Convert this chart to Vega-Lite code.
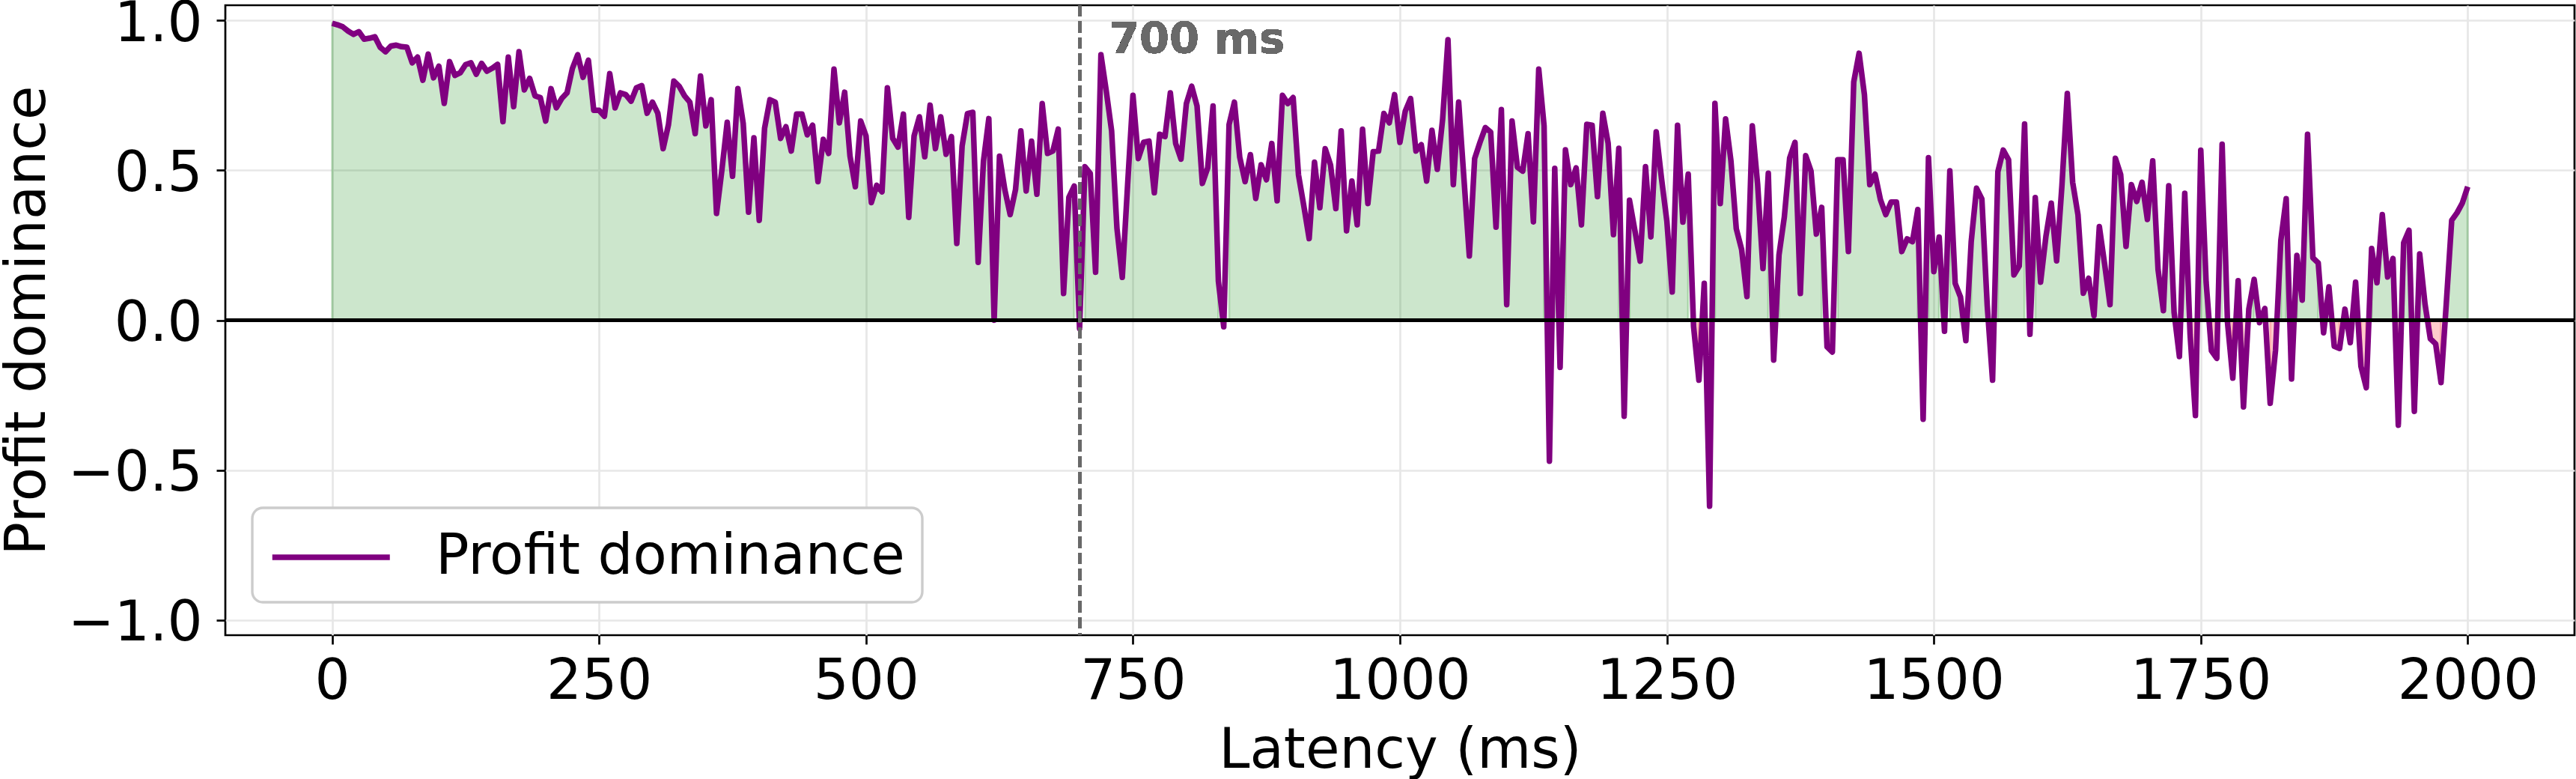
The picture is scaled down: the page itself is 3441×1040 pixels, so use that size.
{
  "$schema": "https://vega.github.io/schema/vega-lite/v6.json",
  "width": 3138,
  "height": 841,
  "autosize": {"type": "none"},
  "padding": {"left": 301, "top": 7, "right": 2, "bottom": 192},
  "background": "white",
  "config": {
    "font": "DejaVu Sans",
    "view": {"stroke": "black", "strokeWidth": 2.7},
    "legend": {"strokeWidth": 3.4},
    "axis": {
      "labelFont": "DejaVu Sans",
      "titleFont": "DejaVu Sans",
      "labelFontSize": 74,
      "titleFontSize": 74,
      "labelColor": "black",
      "titleColor": "black",
      "titleFontWeight": "normal",
      "domain": false,
      "tickColor": "black",
      "tickWidth": 2.7,
      "tickSize": 12,
      "grid": true,
      "gridColor": "#e7e7e7",
      "gridWidth": 2.7,
      "labelOverlap": false,
      "labelFlush": false,
      "labelLimit": 1000
    }
  },
  "datasets": {
    "dominance": [
      {"ms":0,"v":0.99,"run":1},{"ms":5,"v":0.985,"run":1},{"ms":10,"v":0.978,"run":1},{"ms":15,"v":0.964,"run":1},{"ms":20,"v":0.953,"run":1},
      {"ms":25,"v":0.962,"run":1},{"ms":30,"v":0.937,"run":1},{"ms":35,"v":0.94,"run":1},{"ms":40,"v":0.945,"run":1},{"ms":45,"v":0.91,"run":1},
      {"ms":50,"v":0.895,"run":1},{"ms":55,"v":0.914,"run":1},{"ms":60,"v":0.917,"run":1},{"ms":65,"v":0.912,"run":1},{"ms":70,"v":0.91,"run":1},
      {"ms":75,"v":0.858,"run":1},{"ms":80,"v":0.877,"run":1},{"ms":85,"v":0.8,"run":1},{"ms":90,"v":0.887,"run":1},{"ms":95,"v":0.808,"run":1},
      {"ms":100,"v":0.847,"run":1},{"ms":105,"v":0.723,"run":1},{"ms":110,"v":0.862,"run":1},{"ms":115,"v":0.816,"run":1},{"ms":120,"v":0.825,"run":1},
      {"ms":125,"v":0.852,"run":1},{"ms":130,"v":0.858,"run":1},{"ms":135,"v":0.82,"run":1},{"ms":140,"v":0.856,"run":1},{"ms":145,"v":0.83,"run":1},
      {"ms":150,"v":0.84,"run":1},{"ms":155,"v":0.853,"run":1},{"ms":160,"v":0.662,"run":1},{"ms":165,"v":0.877,"run":1},{"ms":170,"v":0.712,"run":1},
      {"ms":175,"v":0.895,"run":1},{"ms":180,"v":0.768,"run":1},{"ms":185,"v":0.806,"run":1},{"ms":190,"v":0.748,"run":1},{"ms":195,"v":0.742,"run":1},
      {"ms":200,"v":0.664,"run":1},{"ms":205,"v":0.772,"run":1},{"ms":210,"v":0.708,"run":1},{"ms":215,"v":0.739,"run":1},{"ms":220,"v":0.758,"run":1},
      {"ms":225,"v":0.839,"run":1},{"ms":230,"v":0.885,"run":1},{"ms":235,"v":0.81,"run":1},{"ms":240,"v":0.867,"run":1},{"ms":245,"v":0.7,"run":1},
      {"ms":250,"v":0.7,"run":1},{"ms":255,"v":0.68,"run":1},{"ms":260,"v":0.822,"run":1},{"ms":265,"v":0.708,"run":1},{"ms":270,"v":0.758,"run":1},
      {"ms":275,"v":0.752,"run":1},{"ms":280,"v":0.73,"run":1},{"ms":285,"v":0.775,"run":1},{"ms":290,"v":0.782,"run":1},{"ms":295,"v":0.69,"run":1},
      {"ms":300,"v":0.727,"run":1},{"ms":305,"v":0.69,"run":1},{"ms":310,"v":0.572,"run":1},{"ms":315,"v":0.652,"run":1},{"ms":320,"v":0.797,"run":1},
      {"ms":325,"v":0.78,"run":1},{"ms":330,"v":0.748,"run":1},{"ms":335,"v":0.727,"run":1},{"ms":340,"v":0.622,"run":1},{"ms":345,"v":0.814,"run":1},
      {"ms":350,"v":0.648,"run":1},{"ms":355,"v":0.735,"run":1},{"ms":360,"v":0.356,"run":1},{"ms":365,"v":0.5,"run":1},{"ms":370,"v":0.66,"run":1},
      {"ms":375,"v":0.48,"run":1},{"ms":380,"v":0.772,"run":1},{"ms":385,"v":0.656,"run":1},{"ms":390,"v":0.36,"run":1},{"ms":395,"v":0.608,"run":1},
      {"ms":400,"v":0.333,"run":1},{"ms":405,"v":0.64,"run":1},{"ms":410,"v":0.735,"run":1},{"ms":415,"v":0.727,"run":1},{"ms":420,"v":0.606,"run":1},
      {"ms":425,"v":0.645,"run":1},{"ms":430,"v":0.564,"run":1},{"ms":435,"v":0.687,"run":1},{"ms":440,"v":0.687,"run":1},{"ms":445,"v":0.618,"run":1},
      {"ms":450,"v":0.65,"run":1},{"ms":455,"v":0.462,"run":1},{"ms":460,"v":0.603,"run":1},{"ms":465,"v":0.556,"run":1},{"ms":470,"v":0.837,"run":1},
      {"ms":475,"v":0.658,"run":1},{"ms":480,"v":0.76,"run":1},{"ms":485,"v":0.547,"run":1},{"ms":490,"v":0.445,"run":1},{"ms":495,"v":0.664,"run":1},
      {"ms":500,"v":0.614,"run":1},{"ms":505,"v":0.392,"run":1},{"ms":510,"v":0.45,"run":1},{"ms":515,"v":0.428,"run":1},{"ms":520,"v":0.775,"run":1},
      {"ms":525,"v":0.606,"run":1},{"ms":530,"v":0.577,"run":1},{"ms":535,"v":0.687,"run":1},{"ms":540,"v":0.343,"run":1},{"ms":545,"v":0.614,"run":1},
      {"ms":550,"v":0.678,"run":1},{"ms":555,"v":0.545,"run":1},{"ms":560,"v":0.717,"run":1},{"ms":565,"v":0.572,"run":1},{"ms":570,"v":0.678,"run":1},
      {"ms":575,"v":0.553,"run":1},{"ms":580,"v":0.612,"run":1},{"ms":585,"v":0.256,"run":1},{"ms":590,"v":0.581,"run":1},{"ms":595,"v":0.689,"run":1},
      {"ms":600,"v":0.693,"run":1},{"ms":605,"v":0.193,"run":1},{"ms":610,"v":0.531,"run":1},{"ms":615,"v":0.672,"run":1},{"ms":620,"v":0.0,"run":1},
      {"ms":625,"v":0.547,"run":1},{"ms":630,"v":0.435,"run":1},{"ms":635,"v":0.352,"run":1},{"ms":640,"v":0.435,"run":1},{"ms":645,"v":0.631,"run":1},
      {"ms":650,"v":0.431,"run":1},{"ms":655,"v":0.597,"run":1},{"ms":660,"v":0.42,"run":1},{"ms":665,"v":0.722,"run":1},{"ms":670,"v":0.556,"run":1},
      {"ms":675,"v":0.564,"run":1},{"ms":680,"v":0.637,"run":1},{"ms":685,"v":0.089,"run":1},{"ms":690,"v":0.41,"run":1},{"ms":695,"v":0.447,"run":1},
      {"ms":700,"v":-0.028,"run":2},
      {"ms":705,"v":0.512,"run":3},{"ms":710,"v":0.489,"run":3},{"ms":715,"v":0.16,"run":3},{"ms":720,"v":0.885,"run":3},{"ms":725,"v":0.764,"run":3},
      {"ms":730,"v":0.631,"run":3},{"ms":735,"v":0.306,"run":3},{"ms":740,"v":0.143,"run":3},{"ms":745,"v":0.452,"run":3},{"ms":750,"v":0.75,"run":3},
      {"ms":755,"v":0.539,"run":3},{"ms":760,"v":0.593,"run":3},{"ms":765,"v":0.597,"run":3},{"ms":770,"v":0.425,"run":3},{"ms":775,"v":0.62,"run":3},
      {"ms":780,"v":0.612,"run":3},{"ms":785,"v":0.758,"run":3},{"ms":790,"v":0.589,"run":3},{"ms":795,"v":0.537,"run":3},{"ms":800,"v":0.722,"run":3},
      {"ms":805,"v":0.78,"run":3},{"ms":810,"v":0.714,"run":3},{"ms":815,"v":0.456,"run":3},{"ms":820,"v":0.508,"run":3},{"ms":825,"v":0.714,"run":3},
      {"ms":830,"v":0.13,"run":3},
      {"ms":835,"v":-0.022,"run":4},
      {"ms":840,"v":0.652,"run":5},{"ms":845,"v":0.727,"run":5},{"ms":850,"v":0.543,"run":5},{"ms":855,"v":0.462,"run":5},{"ms":860,"v":0.552,"run":5},
      {"ms":865,"v":0.406,"run":5},{"ms":870,"v":0.518,"run":5},{"ms":875,"v":0.468,"run":5},{"ms":880,"v":0.589,"run":5},{"ms":885,"v":0.398,"run":5},
      {"ms":890,"v":0.75,"run":5},{"ms":895,"v":0.722,"run":5},{"ms":900,"v":0.742,"run":5},{"ms":905,"v":0.485,"run":5},{"ms":910,"v":0.381,"run":5},
      {"ms":915,"v":0.272,"run":5},{"ms":920,"v":0.527,"run":5},{"ms":925,"v":0.375,"run":5},{"ms":930,"v":0.572,"run":5},{"ms":935,"v":0.518,"run":5},
      {"ms":940,"v":0.372,"run":5},{"ms":945,"v":0.631,"run":5},{"ms":950,"v":0.298,"run":5},{"ms":955,"v":0.464,"run":5},{"ms":960,"v":0.318,"run":5},
      {"ms":965,"v":0.637,"run":5},{"ms":970,"v":0.389,"run":5},{"ms":975,"v":0.562,"run":5},{"ms":980,"v":0.564,"run":5},{"ms":985,"v":0.689,"run":5},
      {"ms":990,"v":0.658,"run":5},{"ms":995,"v":0.752,"run":5},{"ms":1000,"v":0.593,"run":5},{"ms":1005,"v":0.697,"run":5},{"ms":1010,"v":0.739,"run":5},
      {"ms":1015,"v":0.564,"run":5},{"ms":1020,"v":0.585,"run":5},{"ms":1025,"v":0.464,"run":5},{"ms":1030,"v":0.633,"run":5},{"ms":1035,"v":0.503,"run":5},
      {"ms":1040,"v":0.67,"run":5},{"ms":1045,"v":0.935,"run":5},{"ms":1050,"v":0.452,"run":5},{"ms":1055,"v":0.727,"run":5},{"ms":1060,"v":0.47,"run":5},
      {"ms":1065,"v":0.214,"run":5},{"ms":1070,"v":0.539,"run":5},{"ms":1075,"v":0.593,"run":5},{"ms":1080,"v":0.642,"run":5},{"ms":1085,"v":0.627,"run":5},
      {"ms":1090,"v":0.31,"run":5},{"ms":1095,"v":0.702,"run":5},{"ms":1100,"v":0.052,"run":5},{"ms":1105,"v":0.664,"run":5},{"ms":1110,"v":0.51,"run":5},
      {"ms":1115,"v":0.497,"run":5},{"ms":1120,"v":0.622,"run":5},{"ms":1125,"v":0.328,"run":5},{"ms":1130,"v":0.837,"run":5},{"ms":1135,"v":0.648,"run":5},
      {"ms":1140,"v":-0.47,"run":6},
      {"ms":1145,"v":0.506,"run":7},
      {"ms":1150,"v":-0.157,"run":8},
      {"ms":1155,"v":0.568,"run":9},{"ms":1160,"v":0.452,"run":9},{"ms":1165,"v":0.508,"run":9},{"ms":1170,"v":0.318,"run":9},{"ms":1175,"v":0.653,"run":9},
      {"ms":1180,"v":0.65,"run":9},{"ms":1185,"v":0.412,"run":9},{"ms":1190,"v":0.69,"run":9},{"ms":1195,"v":0.59,"run":9},{"ms":1200,"v":0.285,"run":9},
      {"ms":1205,"v":0.573,"run":9},
      {"ms":1210,"v":-0.32,"run":10},
      {"ms":1215,"v":0.4,"run":11},{"ms":1220,"v":0.3,"run":11},{"ms":1225,"v":0.197,"run":11},{"ms":1230,"v":0.512,"run":11},{"ms":1235,"v":0.278,"run":11},
      {"ms":1240,"v":0.628,"run":11},{"ms":1245,"v":0.472,"run":11},{"ms":1250,"v":0.33,"run":11},{"ms":1255,"v":0.094,"run":11},{"ms":1260,"v":0.65,"run":11},
      {"ms":1265,"v":0.327,"run":11},{"ms":1270,"v":0.487,"run":11},
      {"ms":1275,"v":-0.02,"run":12},{"ms":1280,"v":-0.2,"run":12},
      {"ms":1285,"v":0.123,"run":13},
      {"ms":1290,"v":-0.62,"run":14},
      {"ms":1295,"v":0.723,"run":15},{"ms":1300,"v":0.389,"run":15},{"ms":1305,"v":0.671,"run":15},{"ms":1310,"v":0.531,"run":15},{"ms":1315,"v":0.305,"run":15},
      {"ms":1320,"v":0.236,"run":15},{"ms":1325,"v":0.079,"run":15},{"ms":1330,"v":0.648,"run":15},{"ms":1335,"v":0.453,"run":15},{"ms":1340,"v":0.172,"run":15},
      {"ms":1345,"v":0.49,"run":15},
      {"ms":1350,"v":-0.133,"run":16},
      {"ms":1355,"v":0.217,"run":17},{"ms":1360,"v":0.344,"run":17},{"ms":1365,"v":0.541,"run":17},{"ms":1370,"v":0.593,"run":17},{"ms":1375,"v":0.089,"run":17},
      {"ms":1380,"v":0.549,"run":17},{"ms":1385,"v":0.497,"run":17},{"ms":1390,"v":0.287,"run":17},{"ms":1395,"v":0.376,"run":17},
      {"ms":1400,"v":-0.089,"run":18},{"ms":1405,"v":-0.106,"run":18},
      {"ms":1410,"v":0.535,"run":19},{"ms":1415,"v":0.535,"run":19},{"ms":1420,"v":0.229,"run":19},{"ms":1425,"v":0.794,"run":19},{"ms":1430,"v":0.89,"run":19},
      {"ms":1435,"v":0.752,"run":19},{"ms":1440,"v":0.452,"run":19},{"ms":1445,"v":0.487,"run":19},{"ms":1450,"v":0.402,"run":19},{"ms":1455,"v":0.352,"run":19},
      {"ms":1460,"v":0.394,"run":19},{"ms":1465,"v":0.394,"run":19},{"ms":1470,"v":0.229,"run":19},{"ms":1475,"v":0.271,"run":19},{"ms":1480,"v":0.262,"run":19},
      {"ms":1485,"v":0.369,"run":19},
      {"ms":1490,"v":-0.33,"run":20},
      {"ms":1495,"v":0.542,"run":21},{"ms":1500,"v":0.162,"run":21},{"ms":1505,"v":0.277,"run":21},
      {"ms":1510,"v":-0.037,"run":22},
      {"ms":1515,"v":0.498,"run":23},{"ms":1520,"v":0.123,"run":23},{"ms":1525,"v":0.077,"run":23},
      {"ms":1530,"v":-0.068,"run":24},
      {"ms":1535,"v":0.261,"run":25},{"ms":1540,"v":0.44,"run":25},{"ms":1545,"v":0.404,"run":25},{"ms":1550,"v":0.05,"run":25},
      {"ms":1555,"v":-0.2,"run":26},
      {"ms":1560,"v":0.495,"run":27},{"ms":1565,"v":0.567,"run":27},{"ms":1570,"v":0.535,"run":27},{"ms":1575,"v":0.151,"run":27},{"ms":1580,"v":0.181,"run":27},
      {"ms":1585,"v":0.654,"run":27},
      {"ms":1590,"v":-0.047,"run":28},
      {"ms":1595,"v":0.409,"run":29},{"ms":1600,"v":0.127,"run":29},{"ms":1605,"v":0.28,"run":29},{"ms":1610,"v":0.39,"run":29},{"ms":1615,"v":0.198,"run":29},
      {"ms":1620,"v":0.45,"run":29},{"ms":1625,"v":0.756,"run":29},{"ms":1630,"v":0.46,"run":29},{"ms":1635,"v":0.352,"run":29},{"ms":1640,"v":0.09,"run":29},
      {"ms":1645,"v":0.14,"run":29},{"ms":1650,"v":0.015,"run":29},{"ms":1655,"v":0.312,"run":29},{"ms":1660,"v":0.186,"run":29},{"ms":1665,"v":0.052,"run":29},
      {"ms":1670,"v":0.54,"run":29},{"ms":1675,"v":0.485,"run":29},{"ms":1680,"v":0.246,"run":29},{"ms":1685,"v":0.452,"run":29},{"ms":1690,"v":0.396,"run":29},
      {"ms":1695,"v":0.46,"run":29},{"ms":1700,"v":0.336,"run":29},{"ms":1705,"v":0.531,"run":29},{"ms":1710,"v":0.169,"run":29},{"ms":1715,"v":0.032,"run":29},
      {"ms":1720,"v":0.448,"run":29},{"ms":1725,"v":0.027,"run":29},
      {"ms":1730,"v":-0.121,"run":30},
      {"ms":1735,"v":0.423,"run":31},
      {"ms":1740,"v":-0.047,"run":32},{"ms":1745,"v":-0.318,"run":32},
      {"ms":1750,"v":0.567,"run":33},{"ms":1755,"v":0.127,"run":33},
      {"ms":1760,"v":-0.102,"run":34},{"ms":1765,"v":-0.127,"run":34},
      {"ms":1770,"v":0.587,"run":35},
      {"ms":1775,"v":-0.006,"run":36},{"ms":1780,"v":-0.193,"run":36},
      {"ms":1785,"v":0.132,"run":37},
      {"ms":1790,"v":-0.289,"run":38},
      {"ms":1795,"v":0.037,"run":39},{"ms":1800,"v":0.136,"run":39},
      {"ms":1805,"v":-0.008,"run":40},
      {"ms":1810,"v":0.039,"run":41},
      {"ms":1815,"v":-0.277,"run":42},{"ms":1820,"v":-0.1,"run":42},
      {"ms":1825,"v":0.266,"run":43},{"ms":1830,"v":0.405,"run":43},
      {"ms":1835,"v":-0.196,"run":44},
      {"ms":1840,"v":0.216,"run":45},{"ms":1845,"v":0.067,"run":45},{"ms":1850,"v":0.62,"run":45},{"ms":1855,"v":0.208,"run":45},{"ms":1860,"v":0.191,"run":45},
      {"ms":1865,"v":-0.042,"run":46},
      {"ms":1870,"v":0.111,"run":47},
      {"ms":1875,"v":-0.087,"run":48},{"ms":1880,"v":-0.094,"run":48},
      {"ms":1885,"v":0.037,"run":49},
      {"ms":1890,"v":-0.075,"run":50},
      {"ms":1895,"v":0.127,"run":51},
      {"ms":1900,"v":-0.154,"run":52},{"ms":1905,"v":-0.225,"run":52},
      {"ms":1910,"v":0.239,"run":53},{"ms":1915,"v":0.125,"run":53},{"ms":1920,"v":0.352,"run":53},{"ms":1925,"v":0.144,"run":53},{"ms":1930,"v":0.206,"run":53},
      {"ms":1935,"v":-0.35,"run":54},
      {"ms":1940,"v":0.258,"run":55},{"ms":1945,"v":0.3,"run":55},
      {"ms":1950,"v":-0.304,"run":56},
      {"ms":1955,"v":0.221,"run":57},{"ms":1960,"v":0.054,"run":57},
      {"ms":1965,"v":-0.062,"run":58},{"ms":1970,"v":-0.079,"run":58},{"ms":1975,"v":-0.208,"run":58},
      {"ms":1980,"v":0.06,"run":59},{"ms":1985,"v":0.333,"run":59},{"ms":1990,"v":0.358,"run":59},{"ms":1995,"v":0.391,"run":59},{"ms":2000,"v":0.445,"run":59}
    ]
  },
  "data": {"name": "dominance"},
  "layer": [
    {
      "description": "Shaded runs between the curve and zero: green where dominance is positive, red where negative",
      "mark": {"type": "area", "fillOpacity": 0.2, "strokeOpacity": 0.2, "strokeWidth": 3},
      "encoding": {
        "x": {
          "field": "ms",
          "type": "quantitative",
          "scale": {"domain": [-100, 2100], "nice": false, "zero": false},
          "axis": {
            "values": [0, 250, 500, 750, 1000, 1250, 1500, 1750, 2000],
            "format": "d",
            "title": "Latency (ms)",
            "labelPadding": 14,
            "titleBaseline": "alphabetic",
            "titleY": 176
          }
        },
        "y": {
          "field": "v",
          "type": "quantitative",
          "scale": {"domain": [-1.05, 1.05], "nice": false, "zero": false},
          "axis": {
            "values": [-1, -0.5, 0, 0.5, 1],
            "format": ".1f",
            "title": "Profit dominance",
            "labelPadding": 19,
            "labelOffset": 5,
            "titleAngle": 270,
            "titleAlign": "center",
            "titleBaseline": "alphabetic",
            "titleX": -242,
            "titleY": 420.5
          }
        },
        "y2": {"datum": 0},
        "detail": {"field": "run", "type": "nominal"},
        "fill": {"condition": {"test": "datum.v < 0", "value": "red"}, "value": "green"},
        "stroke": {"condition": {"test": "datum.v < 0", "value": "red"}, "value": "green"}
      }
    },
    {
      "mark": {"type": "line", "strokeWidth": 7.5, "strokeJoin": "round", "strokeCap": "butt"},
      "encoding": {
        "x": {"field": "ms", "type": "quantitative"},
        "y": {"field": "v", "type": "quantitative"},
        "color": {
          "datum": "Profit dominance",
          "type": "nominal",
          "scale": {"range": ["purple"]},
          "legend": {
            "title": null,
            "orient": "none",
            "legendX": 36,
            "legendY": 671,
            "symbolType": "M -1 0 L 3 0",
            "symbolSize": 6162,
            "symbolStrokeWidth": 7.5,
            "labelFont": "DejaVu Sans",
            "labelFontSize": 74,
            "labelColor": "black",
            "labelOffset": 136,
            "labelLimit": 3000,
            "padding": 23,
            "fillColor": "white",
            "strokeColor": "#cccccc",
            "cornerRadius": 14
          }
        }
      }
    },
    {
      "mark": {"type": "rule", "color": "black", "strokeWidth": 3.4},
      "encoding": {"y": {"datum": 0}}
    },
    {
      "mark": {"type": "rule", "color": "dimgray", "strokeWidth": 4, "strokeDash": [15, 6.5]},
      "encoding": {"x": {"datum": 700}}
    },
    {
      "mark": {
        "type": "text",
        "text": "700 ms",
        "font": "DejaVu Sans",
        "fontSize": 57.5,
        "fontWeight": "bold",
        "color": "dimgray",
        "align": "left",
        "baseline": "alphabetic"
      },
      "encoding": {"x": {"datum": 728}, "y": {"datum": 0.89}}
    }
  ]
}
